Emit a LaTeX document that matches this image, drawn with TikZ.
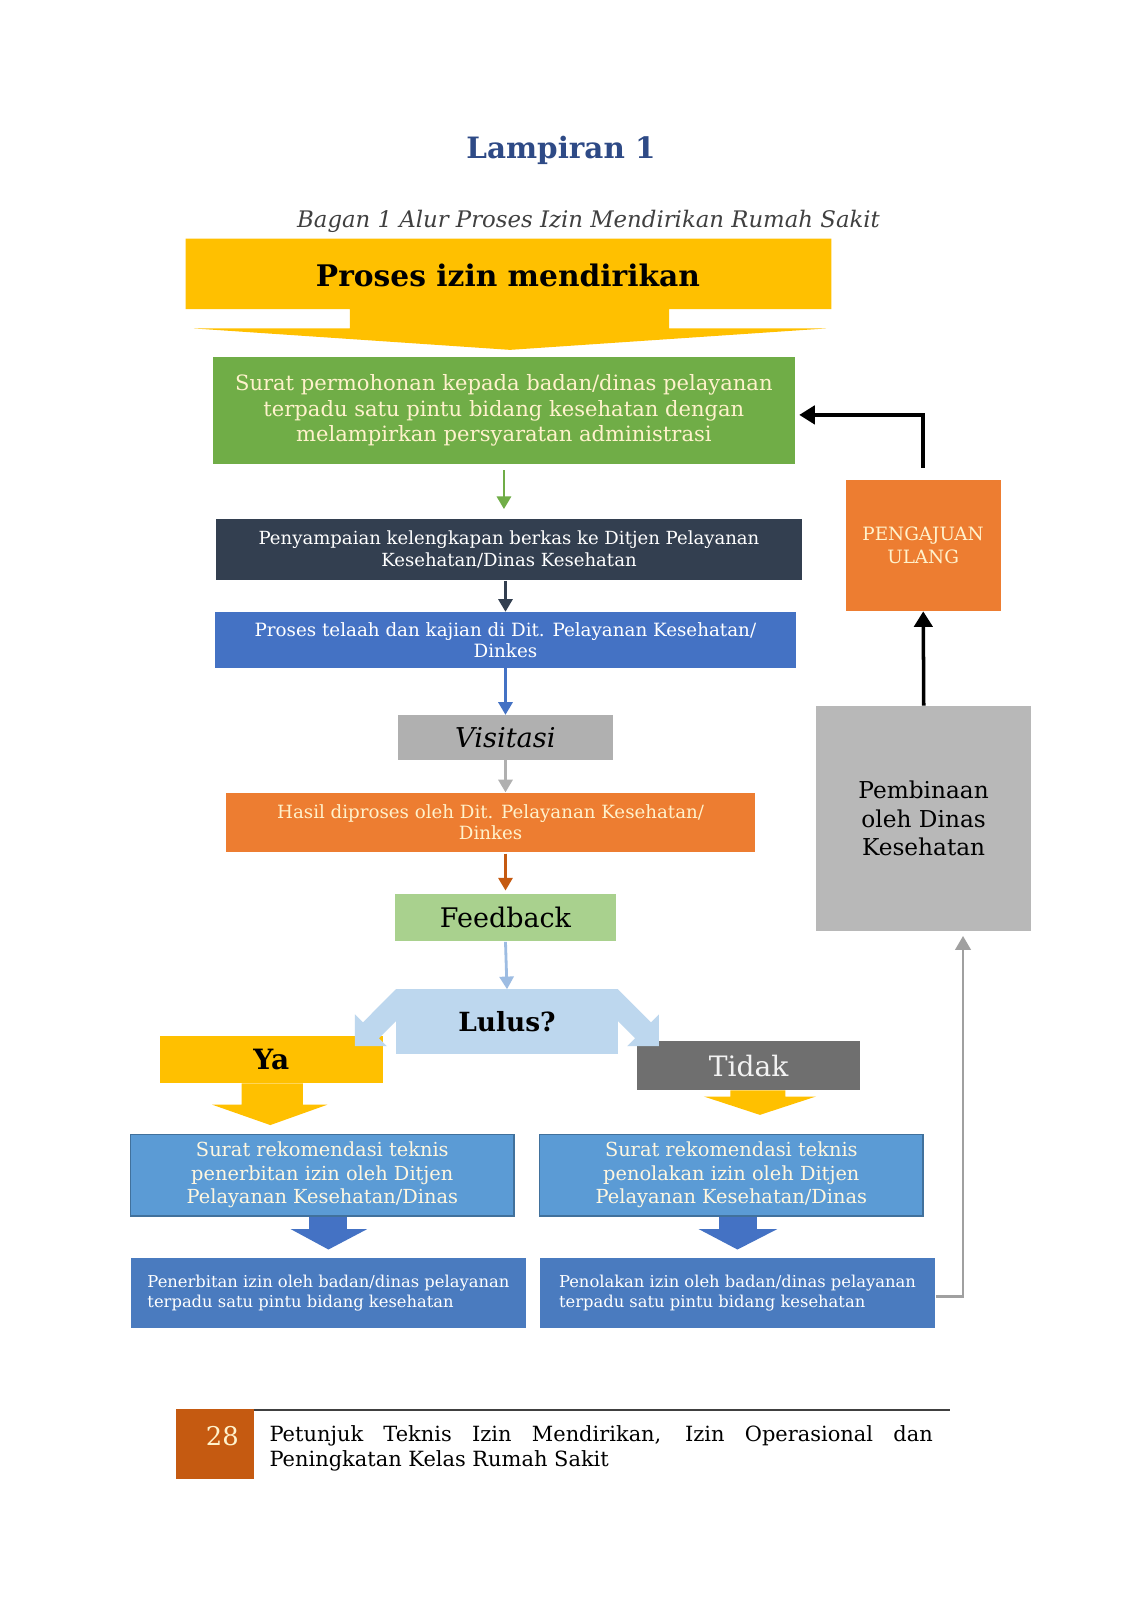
\documentclass[tikz,border=0pt]{standalone}
\usepackage{fontspec}
\setmainfont{DejaVu Serif}
\usetikzlibrary{arrows.meta}

\definecolor{kuning}{HTML}{FFC000}
\definecolor{hijau}{HTML}{70AD47}
\definecolor{hijaumuda}{HTML}{A9D18E}
\definecolor{navy}{HTML}{333F50}
\definecolor{biru}{HTML}{4472C4}
\definecolor{birumuda}{HTML}{BDD7EE}
\definecolor{birupanah}{HTML}{9DBCE2}
\definecolor{birurek}{HTML}{5B9BD5}
\definecolor{birugaris}{HTML}{41719C}
\definecolor{biruizin}{HTML}{4A7BBF}
\definecolor{oranye}{HTML}{ED7D31}
\definecolor{coklat}{HTML}{C55A11}
\definecolor{abu}{HTML}{B0B0B0}
\definecolor{abutua}{HTML}{6F6F6F}
\definecolor{abugaris}{HTML}{A0A0A0}
\definecolor{krem}{HTML}{FFF2CC}
\definecolor{birujudul}{HTML}{2E4A86}
\definecolor{teks}{HTML}{404040}

\begin{document}
\begin{tikzpicture}[x=0.025cm, y=-0.025cm, scale=1.02, transform shape,
  kotak/.style={rectangle, inner sep=0pt, align=center},
  panah/.style={-{Triangle[width=10pt,length=9pt]}, line width=2pt},
  panahhitam/.style={-{Triangle[width=13pt,length=11pt]}, line width=2.5pt, black},
  panahabu/.style={-{Triangle[width=11pt,length=10pt]}, line width=2pt, abugaris},
]
\useasboundingbox[fill=white] (0,0) rectangle (1101.96,1568.63);

% judul
\node (judul) at (550,147) [text=birujudul, font=\bfseries\fontsize{20.5}{24}\selectfont] {Lampiran 1};
\node (subjudul) at (577,217) [text=teks, font=\itshape\fontsize{15.9}{19}\selectfont] {Bagan 1 Alur Proses Izin Mendirikan Rumah Sakit};

% panah besar kuning
\fill[kuning] (182,234) -- (815,234) -- (815,303) -- (656,303) -- (656,322) -- (810,322)
  -- (500,343) -- (190,322) -- (343,322) -- (343,303) -- (182,303) -- cycle;
\node (proses) at (498,270) [font=\bfseries\fontsize{20.7}{24}\selectfont] {Proses izin mendirikan};

% alur utama
\node (permohonan) at (494,402.5) [kotak, fill=hijau, text=krem, minimum width=14.25cm, minimum height=2.625cm,
  font=\fontsize{14.7}{17.6}\selectfont] {Surat permohonan kepada badan/dinas pelayanan\\terpadu satu pintu bidang kesehatan dengan\\melampirkan persyaratan administrasi};
\node (berkas) at (499,539) [kotak, fill=navy, text=white, minimum width=14.35cm, minimum height=1.5cm,
  font=\fontsize{12.6}{15.4}\selectfont] {Penyampaian kelengkapan berkas ke Ditjen Pelayanan\\Kesehatan/Dinas Kesehatan};
\node (telaah) at (495.5,627.5) [kotak, fill=biru, text=white, minimum width=14.225cm, minimum height=1.375cm,
  font=\fontsize{12.75}{14.8}\selectfont] {Proses telaah dan kajian di Dit. Pelayanan Kesehatan/\\Dinkes};
\node (visitasi) at (495.5,723) [kotak, fill=abu, minimum width=5.275cm, minimum height=1.1cm,
  font=\itshape\fontsize{19}{22}\selectfont] {Visitasi};
\node (hasil) at (481,806) [kotak, fill=oranye, text=krem, minimum width=12.95cm, minimum height=1.45cm,
  font=\fontsize{12.7}{14.8}\selectfont] {Hasil diproses oleh Dit. Pelayanan Kesehatan/\\Dinkes};
\node (feedback) at (495.5,899.5) [kotak, fill=hijaumuda, minimum width=5.425cm, minimum height=1.175cm,
  font=\fontsize{18.8}{22}\selectfont] {Feedback};

\draw[panah, hijau, shorten <=4pt, shorten >=7pt] (permohonan.south) -- (permohonan.south |- berkas.north);
\draw[panah, navy] (berkas.south -| telaah.north) -- (telaah.north);
\draw[panah, biru] (telaah.south) -- (visitasi.north);
\draw[panah, abu] (visitasi.south) -- (visitasi.south |- hasil.north);
\draw[panah, coklat, shorten <=1pt, shorten >=2pt] (hasil.south -| feedback.north) -- (feedback.north);

% keputusan
\node (ya) at (266,1039) [kotak, fill=kuning, minimum width=5.45cm, minimum height=1.15cm,
  font=\bfseries\fontsize{19.5}{22}\selectfont] {Ya};
\node (tidak) at (734,1045) [kotak, fill=abutua, text=white!95!black, minimum width=5.45cm, minimum height=1.2cm,
  font=\fontsize{19.6}{22}\selectfont] {Tidak};
\fill[birumuda] (388,970) -- (355.8,1002.3) -- (348,994.5) -- (348,1025.6) -- (379.2,1025.7)
  -- (371.4,1017.9) -- (403.6,985.6) -- cycle;
\fill[birumuda] (606,970) -- (638.2,1002.3) -- (646,994.5) -- (646,1025.6) -- (614.8,1025.7)
  -- (622.6,1017.9) -- (590.4,985.6) -- cycle;
\node (lulus) at (497,1001.5) [kotak, fill=birumuda, minimum width=5.45cm, minimum height=1.575cm,
  font=\bfseries\fontsize{18.4}{21}\selectfont] {Lulus?};
\draw[panah, birupanah] (feedback.south) -- (lulus.north);

% panah blok
\fill[kuning] (237,1062) -- (297,1062) -- (297,1083) -- (321,1083) -- (265,1103) -- (208,1083) -- (237,1083) -- cycle;
\fill[kuning] (716,1069) -- (770,1069) -- (770,1075) -- (800,1075) -- (745,1093) -- (690,1075) -- (716,1075) -- cycle;
\fill[biru] (303,1192) -- (340,1192) -- (340,1205) -- (360,1205) -- (322,1225) -- (285,1205) -- (303,1205) -- cycle;
\fill[biru] (705,1192) -- (742,1192) -- (742,1205) -- (762,1205) -- (723,1225) -- (685,1205) -- (705,1205) -- cycle;

% rekomendasi dan izin
\node (rekya) at (316,1152) [kotak, fill=birurek, draw=birugaris, line width=1pt, text=krem!60!white, minimum width=9.4cm, minimum height=2cm,
  font=\fontsize{13.5}{16.4}\selectfont] {Surat rekomendasi teknis\\penerbitan izin oleh Ditjen\\Pelayanan Kesehatan/Dinas};
\node (rektidak) at (717,1152) [kotak, fill=birurek, draw=birugaris, line width=1pt, text=krem!60!white, minimum width=9.4cm, minimum height=2cm,
  font=\fontsize{13.5}{16.4}\selectfont] {Surat rekomendasi teknis\\penolakan izin oleh Ditjen\\Pelayanan Kesehatan/Dinas};
\node (izinya) at (322,1267.5) [kotak, fill=biruizin, text=white, align=left, minimum width=9.7cm, minimum height=1.725cm,
  font=\fontsize{11.4}{14.2}\selectfont] {Penerbitan izin oleh badan/dinas pelayanan\\terpadu satu pintu bidang kesehatan};
\node (izintidak) at (723,1267.5) [kotak, fill=biruizin, text=white, align=left, minimum width=9.7cm, minimum height=1.725cm,
  font=\fontsize{11.4}{14.2}\selectfont] {Penolakan izin oleh badan/dinas pelayanan\\terpadu satu pintu bidang kesehatan};

% umpan balik
\node (pembinaan) at (905.5,802.5) [kotak, fill=abu!90!white, minimum width=5.275cm, minimum height=5.525cm,
  font=\fontsize{16.2}{20}\selectfont] {Pembinaan\\oleh Dinas\\Kesehatan};
\node (pengajuan) at (905,535) [kotak, fill=oranye, text=krem, minimum width=3.8cm, minimum height=3.2cm,
  font=\fontsize{12.8}{16}\selectfont] {PENGAJUAN\\ULANG};
\coordinate (belok) at (944,1271);
\draw[panahabu, shorten >=3pt] (izintidak.east |- belok) -- (belok) -- (belok |- pembinaan.south);
\draw[panahhitam] (pembinaan.north) -- (pengajuan.south);
\draw[panahhitam, shorten <=9pt, shorten >=3pt] (pengajuan.north) |- ([yshift=-3pt]permohonan.east);

% kaki halaman
\draw[teks, line width=1.5pt] (249,1382) -- (931,1382);
\node (halaman) at (211,1415.5) [kotak, fill=coklat, minimum width=1.9cm, minimum height=1.725cm] {};
\node (nomor) at (218,1408) [text=krem, font=\fontsize{18}{21}\selectfont] {28};
\node (kaki) at (264,1397) [anchor=north west, inner sep=0pt, text width=16.25cm, align=justify,
  font=\fontsize{14.6}{17.8}\selectfont] {Petunjuk Teknis Izin Mendirikan, Izin Operasional dan\linebreak Peningkatan Kelas Rumah Sakit};
\end{tikzpicture}
\end{document}
